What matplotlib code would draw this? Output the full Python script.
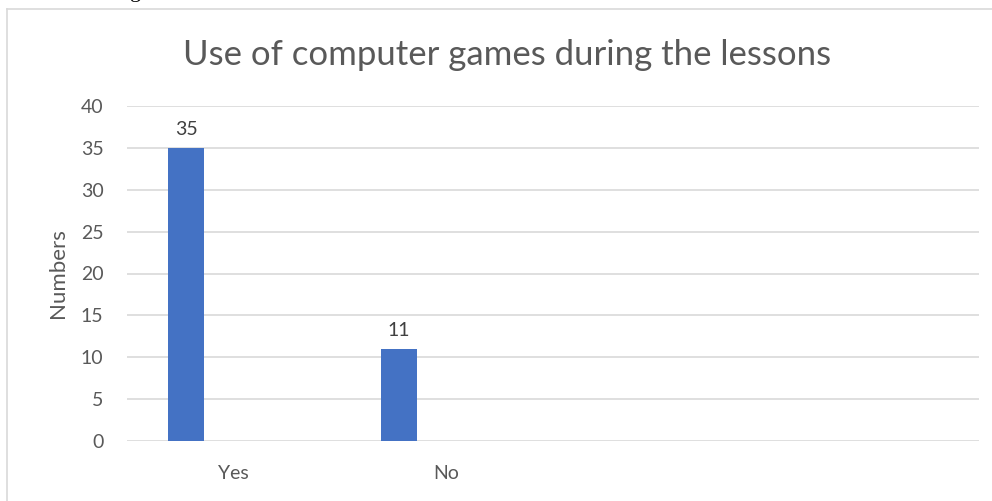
import numpy as np
import matplotlib.pyplot as plt
from matplotlib.lines import Line2D

categories = ["Yes", "No", "", ""]
counts = [35, 11, np.nan, np.nan]
yticks = [0, 5, 10, 15, 20, 25, 30, 35, 40]

plt.rcParams["font.family"] = ["Lato", "DejaVu Sans"]

fig = plt.figure(figsize=(9.92, 5.01), dpi=100)
ax = fig.add_axes([127 / 992, 60 / 501, 852 / 992, 335 / 501])

x = np.arange(len(categories))
bars = ax.bar(x - 0.223, counts, width=0.169, color="#4472C4", zorder=3)
for b, v in zip(bars, counts):
    if np.isnan(v):
        continue
    ax.annotate(f"{v:g}", (b.get_x() + b.get_width() / 2, v),
                xytext=(0, 7), textcoords="offset points",
                ha="center", va="bottom", fontsize=14, color="#404040")

ax.set_xlim(-0.5, len(categories) - 0.5)
ax.set_ylim(0, 40)
ax.set_yticks(yticks)
ax.set_xticks(x)
ax.set_xticklabels(categories)
ax.tick_params(axis="both", length=0, colors="#595959", labelsize=14)
ax.tick_params(axis="y", pad=17)
ax.tick_params(axis="x", pad=17)
ax.yaxis.grid(True, color="#D9D9D9", linewidth=1.2, zorder=0)
for s in ax.spines.values():
    s.set_visible(False)

ax.set_ylabel("Numbers", fontsize=16, color="#595959", labelpad=9)
fig.text(507 / 992, 1 - 55 / 501, "Use of computer games during the lessons",
         ha="center", va="center", fontsize=25, color="#595959")

# chart frame edges and the caption text cut off above it
fig.add_artist(Line2D([7 / 992, 7 / 992], [0, 1 - 9 / 501],
                      transform=fig.transFigure, color="#D9D9D9", lw=1.2))
fig.add_artist(Line2D([7 / 992, 1], [1 - 9 / 501, 1 - 9 / 501],
                      transform=fig.transFigure, color="#D9D9D9", lw=1.2))
fig.text(130 / 992, 1 + 3 / 501, "g", ha="left", va="baseline",
         fontsize=16, family="Liberation Serif", color="black")

fig.savefig("out.png", dpi=100)
